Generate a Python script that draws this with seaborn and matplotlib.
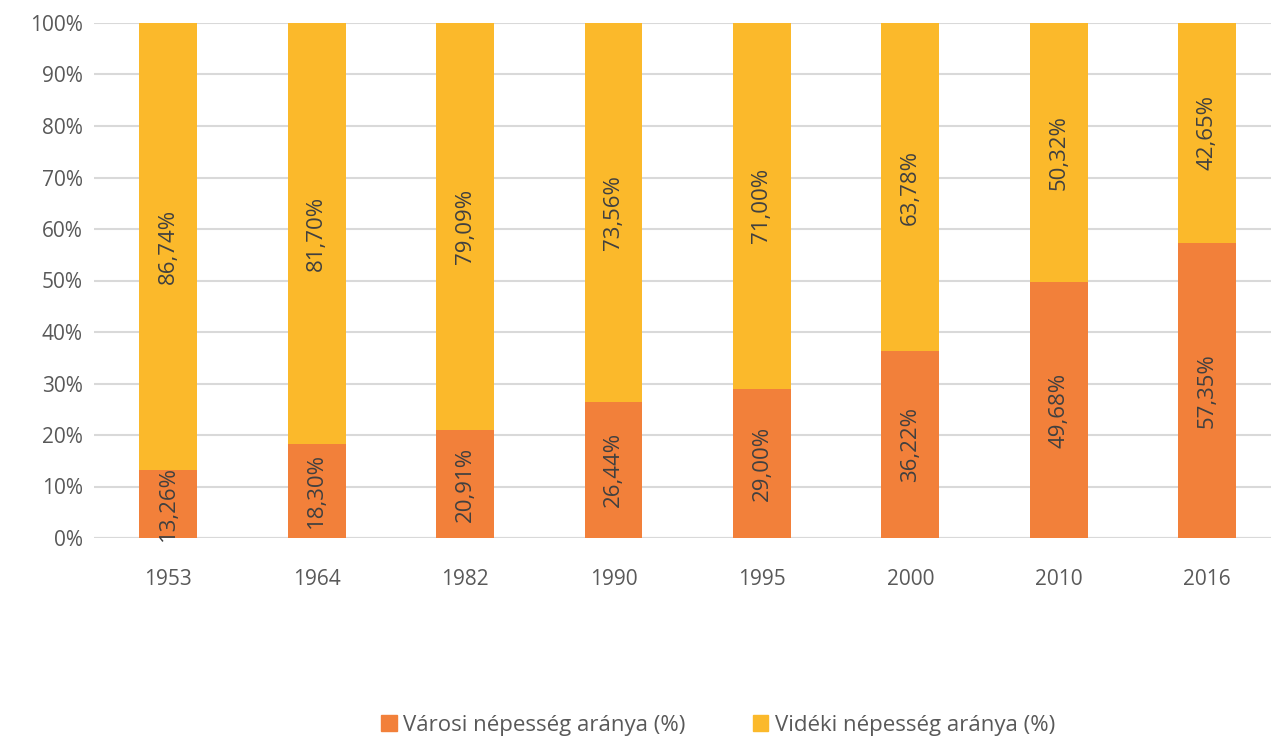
import matplotlib
matplotlib.use("Agg")
import matplotlib.pyplot as plt
import seaborn as sns
import pandas as pd
from matplotlib.patches import Patch

# data
years = ["1953", "1964", "1982", "1990", "1995", "2000", "2010", "2016"]
urban = [13.26, 18.30, 20.91, 26.44, 29.00, 36.22, 49.68, 57.35]
rural = [86.74, 81.70, 79.09, 73.56, 71.00, 63.78, 50.32, 42.65]
urban_label = "Városi népesség aránya (%)"
rural_label = "Vidéki népesség aránya (%)"

orange = "#F2803A"
yellow = "#FBB92B"
text_col = "#595959"

df = pd.DataFrame({"year": years, "urban": urban, "rural": rural})
df["total"] = df["urban"] + df["rural"]

sns.set_style("white")
plt.rcParams["font.family"] = ["Open Sans", "DejaVu Sans"]

fig = plt.figure(figsize=(12.71, 7.36), dpi=100)
ax = fig.add_axes([94 / 1271, 198 / 736, 1 - 94 / 1271, 515 / 736])

# stacked bars: total in yellow, urban on top of it in orange
sns.barplot(data=df, x="year", y="total", color=yellow, width=0.39,
            saturation=1, linewidth=0, ax=ax, zorder=3)
sns.barplot(data=df, x="year", y="urban", color=orange, width=0.39,
            saturation=1, linewidth=0, ax=ax, zorder=4)

# value labels, rotated, centred in each segment
for i, (u, r) in enumerate(zip(urban, rural)):
    ax.text(i, u / 2, f"{u:.2f}%".replace(".", ","), rotation=90,
            ha="center", va="center", fontsize=16, color="#404040", zorder=5)
    ax.text(i, u + r / 2, f"{r:.2f}%".replace(".", ","), rotation=90,
            ha="center", va="center", fontsize=16, color="#404040", zorder=5)

ax.set_ylim(0, 100)
ax.set_xlim(-0.5, 7.43)
ax.set_yticks(range(0, 101, 10))
ax.set_yticklabels([f"{v}%" for v in range(0, 101, 10)])
ax.yaxis.grid(True, color="#D9D9D9", linewidth=1.5, zorder=0)
ax.set_axisbelow(True)
for s in ax.spines.values():
    s.set_visible(False)
ax.axhline(0, color="#D9D9D9", linewidth=1.5, zorder=1)
ax.tick_params(axis="both", length=0, labelsize=15, colors=text_col, pad=8)
ax.tick_params(axis="x", pad=22)
ax.set_xlabel("")
ax.set_ylabel("")

handles = [Patch(color=orange), Patch(color=yellow)]
fig.legend(handles, [urban_label, rural_label], loc="lower center",
           bbox_to_anchor=(0.565, -0.027), ncol=2, frameon=False,
           fontsize=16, handlelength=0.7, handleheight=0.7,
           columnspacing=3.0, handletextpad=0.3, labelcolor=text_col)

fig.savefig("out.png", dpi=100)
